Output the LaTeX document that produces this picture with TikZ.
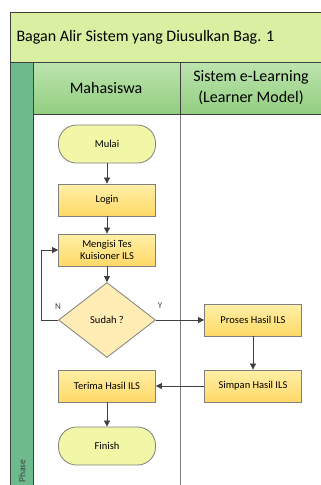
\documentclass[tikz,border=0pt]{standalone}
\usepackage{fontspec}
\setmainfont{Carlito}
\usetikzlibrary{shapes.geometric,arrows.meta,positioning}
\definecolor{titlefill}{HTML}{D9F0A3}
\definecolor{hdrtop}{HTML}{BDE4AE}
\definecolor{hdrbot}{HTML}{92CE80}
\definecolor{phasefill}{HTML}{6DBA8C}
\definecolor{boxtop}{HTML}{FFEFA8}
\definecolor{boxbot}{HTML}{FFD966}
\definecolor{termfill}{HTML}{F1F7A6}
\definecolor{diafill}{HTML}{FFEDB5}
\definecolor{edge}{HTML}{7F7F7F}
\definecolor{arr}{HTML}{404040}
\tikzset{
  procbox/.style={draw=edge, line width=0.8pt, top color=boxtop, bottom color=boxbot,
    minimum width=97pt, minimum height=32pt, inner sep=1pt, align=center, font=\fontsize{10.5}{12}\selectfont},
  termbox/.style={draw=edge, line width=0.8pt, fill=termfill, rounded corners=18pt,
    minimum width=97pt, minimum height=38pt, inner sep=1pt, font=\fontsize{10.5}{12}\selectfont},
  decbox/.style={draw=edge, line width=0.8pt, fill=diafill, diamond, aspect=1.3,
    minimum width=97pt, minimum height=75pt, inner sep=0pt, font=\fontsize{10.5}{12}\selectfont},
  flow/.style={draw=arr, line width=0.7pt, -{Triangle[length=6pt,width=6pt]}},
  lbl/.style={font=\fontsize{9}{10}\selectfont, text=arr}
}
\begin{document}
\begin{tikzpicture}[x=1pt,y=-1pt]
\useasboundingbox (0,0) rectangle (321,485);
% frame
\fill[phasefill] (10,62) rectangle (33,490);
\draw[edge, line width=0.6pt] (180,114) -- (180,490);
\shade[top color=hdrtop, bottom color=hdrbot] (33,62) rectangle (330,114);
\draw[arr, line width=0.7pt] (33,62) -- (33,490);
\draw[arr, line width=0.7pt] (180,62) -- (180,114);
\draw[arr, line width=0.7pt] (33,114) -- (330,114);
\draw[arr, line width=0.7pt, fill=titlefill] (10,490) -- (10,12) -- (330,12) -- (330,62) -- (10,62);
\draw[arr, line width=0.7pt] (10,62) -- (10,490);
\node[anchor=west, font=\fontsize{16}{19}\selectfont] (title) at (13,37) {Bagan Alir Sistem yang Diusulkan Bag. 1};
\node[font=\fontsize{16}{19}\selectfont] (h1) at (106,88) {Mahasiswa};
\node[font=\fontsize{16}{21}\selectfont, align=center] (h2) at (251,88) {Sistem e-Learning\\(Learner Model)};
\node[rotate=90, anchor=west, font=\fontsize{9.5}{10}\selectfont, text=arr] (ph) at (22,486) {Phase};
% nodes
\node[termbox] (mulai) at (107,144) {Mulai};
\node[procbox] (login) at (107,200) {Login};
\node[procbox] (isi) at (107,250) {Mengisi Tes\\Kuisioner ILS};
\node[decbox] (sudah) at (107,320) {Sudah ?};
\node[procbox] (proses) at (253,320) {Proses Hasil ILS};
\node[procbox] (simpan) at (253,386) {Simpan Hasil ILS};
\node[procbox] (terima) at (107,386) {Terima Hasil ILS};
\node[termbox] (finish) at (107,446) {Finish};
\coordinate (lp) at (41,320);
% connectors
\draw[flow] (mulai) -- (login);
\draw[flow] (login) -- (isi);
\draw[flow] (isi) -- (sudah);
\draw[flow] (sudah.east) -- (proses.west);
\draw[flow] (proses) -- (simpan);
\draw[flow] (simpan) -- (terima);
\draw[flow] (terima) -- (finish);
\draw[flow] (sudah.west) -- (lp) |- (isi.west);
\node[lbl] (nlab) at (58,307) {N};
\node[lbl] (ylab) at (160,306) {Y};
\end{tikzpicture}
\end{document}
